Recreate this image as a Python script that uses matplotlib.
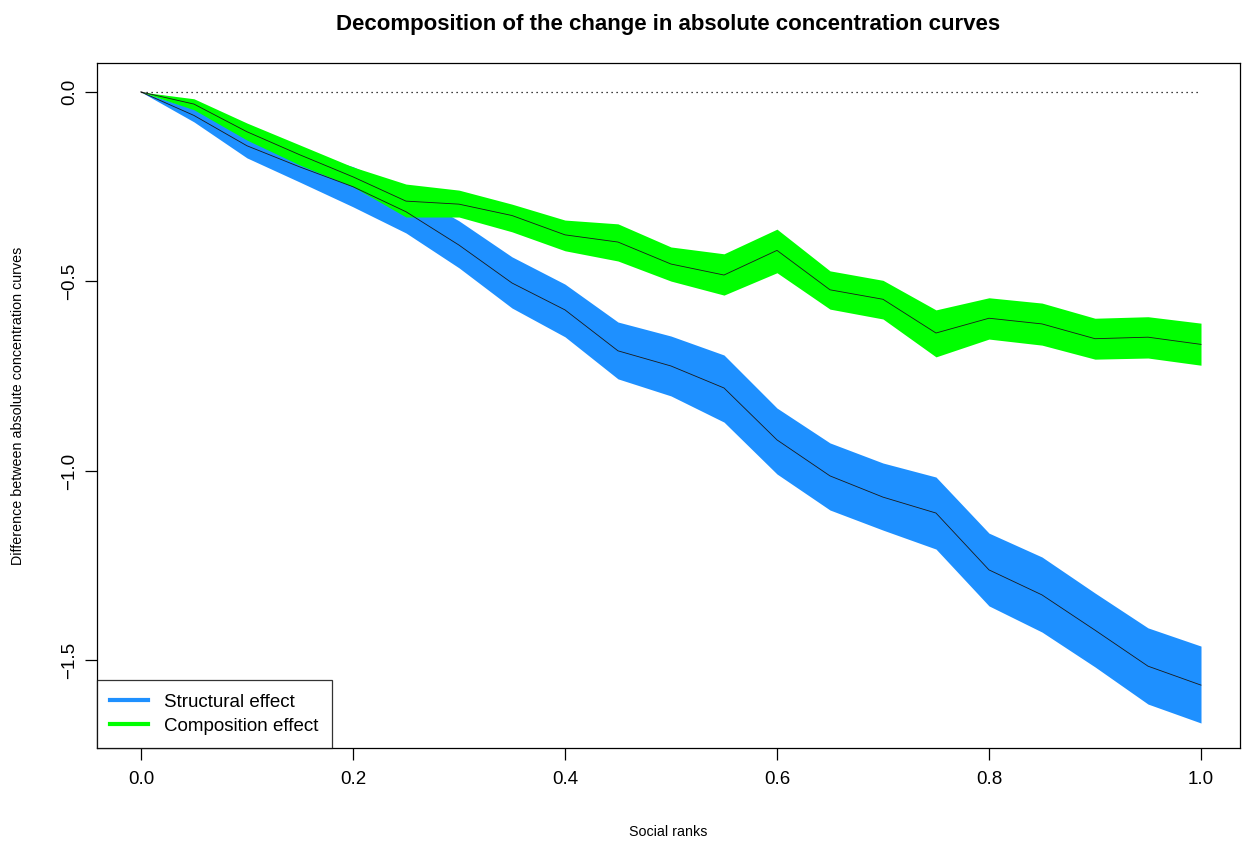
import matplotlib
matplotlib.use("Agg")
import matplotlib.pyplot as plt
import numpy as np

plt.rcParams['font.family'] = ['Liberation Sans', 'DejaVu Sans']

# social ranks
ranks = [0.0, 0.05, 0.10, 0.15, 0.20, 0.25, 0.30, 0.35, 0.40, 0.45, 0.50,
         0.55, 0.60, 0.65, 0.70, 0.75, 0.80, 0.85, 0.90, 0.95, 1.0]

# structural effect (estimate, upper, lower)
struct_mid = [0.0, -0.062, -0.142, -0.198, -0.250, -0.316, -0.404, -0.504, -0.575, -0.683, -0.723,
              -0.781, -0.918, -1.013, -1.069, -1.111, -1.261, -1.327, -1.420, -1.515, -1.565]
struct_hi = [0.0, -0.045, -0.110, -0.158, -0.197, -0.260, -0.340, -0.435, -0.507, -0.607, -0.644,
             -0.694, -0.834, -0.926, -0.979, -1.016, -1.164, -1.227, -1.322, -1.414, -1.462]
struct_lo = [0.0, -0.079, -0.174, -0.238, -0.303, -0.372, -0.464, -0.570, -0.646, -0.757, -0.802,
             -0.871, -1.008, -1.103, -1.156, -1.206, -1.356, -1.425, -1.517, -1.615, -1.665]

# composition effect (estimate, upper, lower)
comp_mid = [0.0, -0.032, -0.105, -0.166, -0.224, -0.288, -0.296, -0.326, -0.377, -0.396, -0.454,
            -0.483, -0.418, -0.522, -0.547, -0.636, -0.597, -0.612, -0.651, -0.647, -0.666]
comp_hi = [0.0, -0.018, -0.082, -0.140, -0.198, -0.243, -0.259, -0.296, -0.338, -0.348, -0.409,
           -0.427, -0.362, -0.472, -0.497, -0.575, -0.543, -0.557, -0.597, -0.593, -0.610]
comp_lo = [0.0, -0.047, -0.127, -0.193, -0.250, -0.330, -0.330, -0.369, -0.419, -0.446, -0.499,
           -0.536, -0.477, -0.573, -0.599, -0.699, -0.652, -0.668, -0.705, -0.702, -0.721]

blue = '#1E90FF'
green = '#00FF00'

fig = plt.figure(figsize=(12.48, 8.44), dpi=100)
ax = fig.add_axes([0.0777, 0.1137, 0.9159, 0.8117])

ax.fill_between(ranks, struct_lo, struct_hi, color=blue, lw=0)
ax.fill_between(ranks, comp_lo, comp_hi, color=green, lw=0)
ax.plot(ranks, struct_mid, color='#1a1a1a', lw=0.6)
ax.plot(ranks, comp_mid, color='#1a1a1a', lw=0.6)
ax.plot([0, 1], [0, 0], color='black', lw=0.9, ls=(0, (1, 3)))

ax.set_xlim(-0.0415, 1.0368)
ax.set_ylim(-1.731, 0.0765)

ax.set_xticks([0.0, 0.2, 0.4, 0.6, 0.8, 1.0])
ax.set_xticklabels(['0.0', '0.2', '0.4', '0.6', '0.8', '1.0'])
ax.set_yticks([-1.5, -1.0, -0.5, 0.0])
ax.set_yticklabels(['\u22121.5', '\u22121.0', '\u22120.5', '0.0'], rotation=90, va='center')
ax.tick_params(axis='both', direction='out', length=8.8, width=0.9, labelsize=13.5)
ax.tick_params(axis='x', pad=8)
ax.tick_params(axis='y', pad=5)
for s in ax.spines.values():
    s.set_linewidth(0.9)

ax.set_title('Decomposition of the change in absolute concentration curves',
             fontsize=16, fontweight='bold', pad=24)
ax.set_xlabel('Social ranks', fontsize=10.3)
ax.set_ylabel('Difference between absolute concentration curves', fontsize=10.3)
ax.xaxis.label.set_va('center')
ax.yaxis.label.set_va('center')
ax.xaxis.set_label_coords(0.5, -0.1226)
ax.yaxis.set_label_coords(-0.0691, 0.5)

ax.plot([], [], color=blue, lw=3, label='Structural effect')
ax.plot([], [], color=green, lw=3, label='Composition effect')
leg = ax.legend(loc='lower left', bbox_to_anchor=(0, 0), fontsize=13.5, frameon=True,
                fancybox=False, borderaxespad=0, handlelength=2.0, handletextpad=0.88,
                borderpad=0.72, labelspacing=0.36)
leg.get_frame().set_edgecolor('black')
leg.get_frame().set_linewidth(0.9)

fig.savefig('out.png', dpi=100)
